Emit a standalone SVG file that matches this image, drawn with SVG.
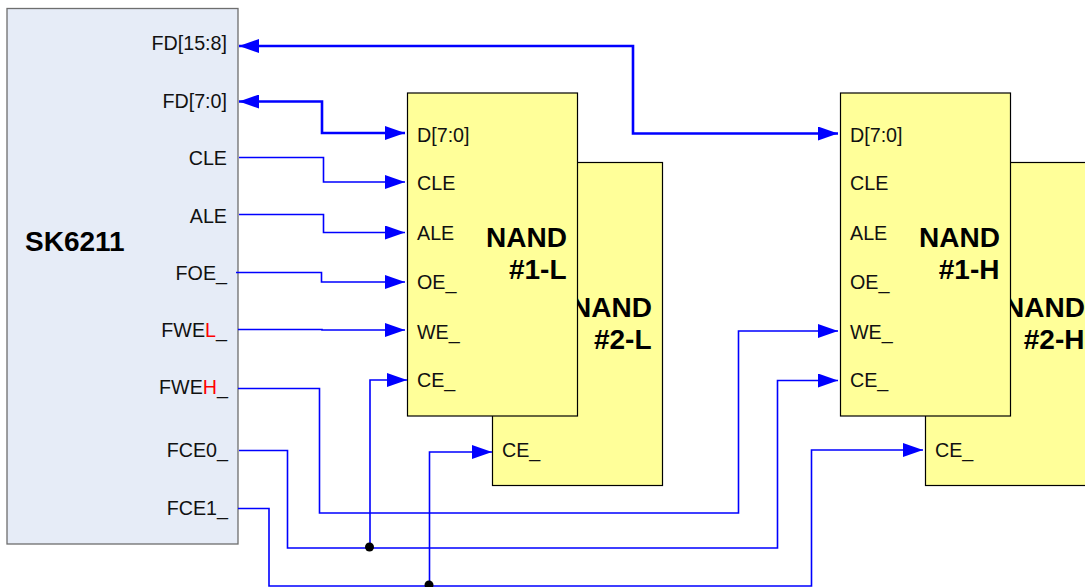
<svg xmlns="http://www.w3.org/2000/svg" width="1085" height="587" viewBox="0 0 1085 587">
<style>
text{font-family:"Liberation Sans",Arial,sans-serif;font-size:19.700px;fill:#111}
.r{text-anchor:end}
.b{font-weight:bold;font-size:28px;fill:#000}
.box{fill:#ffff99;stroke:#000;stroke-width:1.200}
.w{fill:none;stroke:#0000ff;stroke-width:1.600}
.t{fill:none;stroke:#0000ff;stroke-width:2.600}
.red{fill:#ff0000}
</style>
<defs>
<marker id="a" markerUnits="userSpaceOnUse" markerWidth="21" markerHeight="14" refX="20" refY="7" orient="auto-start-reverse"><path d="M0 0L20 7L0 14Z" fill="#0000ff"/></marker>
</defs>
<rect width="1085" height="587" fill="#fff"/>
<g id="sk6211">
<rect x="7" y="8.500" width="231" height="535.500" fill="#e6ecf7" stroke="#6e6e6e" stroke-width="1.300"/>
<text x="25" y="251" class="b">SK6211</text>
<text x="227" y="50" class="r">FD[15:8]</text>
<text x="227" y="108" class="r">FD[7:0]</text>
<text x="227" y="165" class="r">CLE</text>
<text x="227" y="223" class="r">ALE</text>
<text x="227" y="280" class="r">FOE_</text>
<text x="227" y="337" class="r">FWE<tspan class="red">L</tspan>_</text>
<text x="228" y="394" class="r">FWE<tspan class="red">H</tspan>_</text>
<text x="228" y="457" class="r">FCE0_</text>
<text x="228" y="515" class="r">FCE1_</text>
</g>
<g id="nand2l">
<rect x="492.500" y="162.500" width="170" height="323" class="box"/>
<text x="652" y="316.500" class="b r">NAND</text>
<text x="651.500" y="348.500" class="b r">#2-L</text>
<text x="502" y="457">CE_</text>
</g>
<g id="nand1l">
<rect x="407.500" y="93" width="170" height="323" class="box"/>
<text x="567" y="247" class="b r">NAND</text>
<text x="566.500" y="279" class="b r">#1-L</text>
<text x="417" y="142">D[7:0]</text>
<text x="417" y="190">CLE</text>
<text x="417" y="240">ALE</text>
<text x="417" y="289">OE_</text>
<text x="417" y="339">WE_</text>
<text x="417" y="387">CE_</text>
</g>
<g id="nand2h">
<rect x="925.500" y="162.500" width="170" height="323" class="box"/>
<text x="1085" y="316.500" class="b r">NAND</text>
<text x="1084.500" y="348.500" class="b r">#2-H</text>
<text x="935" y="457">CE_</text>
</g>
<g id="nand1h">
<rect x="840.500" y="93" width="170" height="323" class="box"/>
<text x="1000" y="247" class="b r">NAND</text>
<text x="999.500" y="279" class="b r">#1-H</text>
<text x="850" y="142">D[7:0]</text>
<text x="850" y="190">CLE</text>
<text x="850" y="240">ALE</text>
<text x="850" y="289">OE_</text>
<text x="850" y="339">WE_</text>
<text x="850" y="387">CE_</text>
</g>
<g id="connectors">
<path class="t" d="M239 46H633V133.500H838" marker-start="url(#a)" marker-end="url(#a)"/>
<path class="t" d="M239 101.500H322V133H405" marker-start="url(#a)" marker-end="url(#a)"/>
<path class="w" d="M239 157.500H323.500V182H405" marker-end="url(#a)"/>
<path class="w" d="M239 214.500H323.500V232.500H405" marker-end="url(#a)"/>
<path class="w" d="M236 272.500H321.500V282H405" marker-end="url(#a)"/>
<path class="w" d="M238 329.500H322V330H405" marker-end="url(#a)"/>
<path class="w" d="M238 388.500H319.500V513H738.500V331H838" marker-end="url(#a)"/>
<path class="w" d="M239 450.500H287.500V548H777.500V380.500H838" marker-end="url(#a)"/>
<path class="w" d="M238 508.500H269V586H811.500V450H923" marker-end="url(#a)"/>
<path class="w" d="M370 547V380H407" marker-end="url(#a)"/>
<path class="w" d="M429.500 585V452H492" marker-end="url(#a)"/>
<circle cx="369.500" cy="547" r="4.500" fill="#000"/>
<circle cx="429" cy="585" r="4.500" fill="#000"/>
</g>
</svg>
